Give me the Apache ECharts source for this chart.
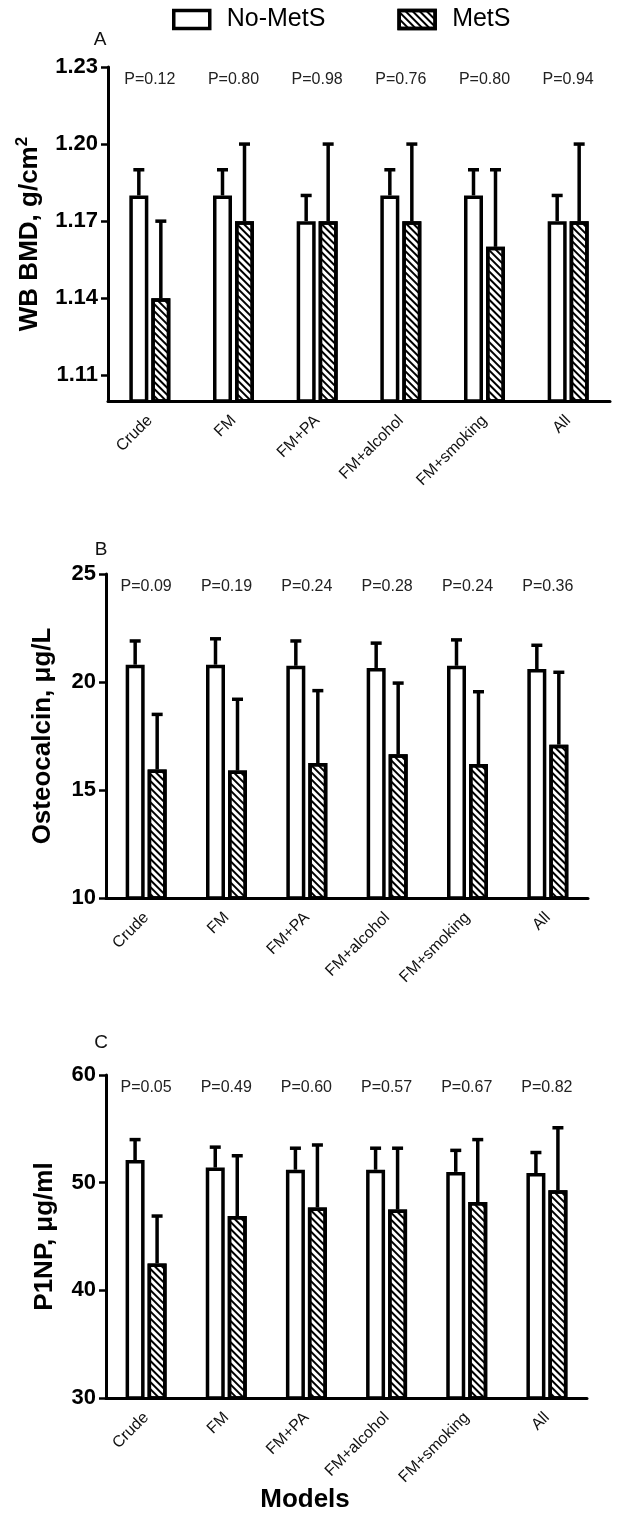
<!DOCTYPE html>
<html>
<head>
<meta charset="utf-8">
<script src="https://cdn.jsdelivr.net/npm/echarts@6/dist/echarts.min.js"></script>
<style>html,body{margin:0;padding:0;background:#fff}#c{width:620px;height:1530px}</style>
</head>
<body>
<div id="c"></div>
<script>
// ---- data ----
const categories = ['Crude', 'FM', 'FM+PA', 'FM+alcohol', 'FM+smoking', 'All'];
const seriesNames = ['No-MetS', 'MetS'];

const bmdNoMetS = [1.18, 1.18, 1.17, 1.18, 1.18, 1.17];
const bmdNoMetSUpper = [1.19, 1.19, 1.18, 1.19, 1.19, 1.18];
const bmdMetS = [1.14, 1.17, 1.17, 1.17, 1.16, 1.17];
const bmdMetSUpper = [1.17, 1.20, 1.20, 1.20, 1.19, 1.20];
const bmdP = ['P=0.12', 'P=0.80', 'P=0.98', 'P=0.76', 'P=0.80', 'P=0.94'];
const bmdTicks = [1.11, 1.14, 1.17, 1.20, 1.23];

const ocNoMetS = [20.8, 20.8, 20.75, 20.65, 20.75, 20.6];
const ocNoMetSUpper = [21.9, 22.0, 21.9, 21.8, 21.95, 21.7];
const ocMetS = [15.95, 15.9, 16.25, 16.65, 16.2, 17.1];
const ocMetSUpper = [18.5, 19.2, 19.6, 19.95, 19.55, 20.45];
const ocP = ['P=0.09', 'P=0.19', 'P=0.24', 'P=0.28', 'P=0.24', 'P=0.36'];
const ocTicks = [10, 15, 20, 25];

const p1npNoMetS = [52.1, 51.4, 51.2, 51.2, 51.0, 50.9];
const p1npNoMetSUpper = [54.0, 53.3, 53.2, 53.2, 53.0, 52.8];
const p1npMetS = [42.5, 46.9, 47.7, 47.5, 48.2, 49.3];
const p1npMetSUpper = [46.9, 52.5, 53.5, 53.2, 54.0, 55.1];
const p1npP = ['P=0.05', 'P=0.49', 'P=0.60', 'P=0.57', 'P=0.67', 'P=0.82'];
const p1npTicks = [30, 40, 50, 60];

// ---- layout / style ----
const FONT = '"Liberation Sans", Arial, Helvetica, sans-serif';
const BW = 19, GAP = 3;
const panels = [
  { letter: 'A', noM: bmdNoMetS, noU: bmdNoMetSUpper, m: bmdMetS, mU: bmdMetSUpper, p: bmdP, ticks: bmdTicks,
    min: 1.10, max: 1.23, dec: 2, grid: { left: 108, right: 10, top: 67, height: 334 }, nameGap: 62,
    name: '{t|WB BMD, g/cm}{s|2}', letterPos: [100, 40] },
  { letter: 'B', noM: ocNoMetS, noU: ocNoMetSUpper, m: ocMetS, mU: ocMetSUpper, p: ocP, ticks: ocTicks,
    min: 10, max: 25, dec: 0, grid: { left: 106, right: 32, top: 574, height: 324 }, nameGap: 50,
    name: '{t|Osteocalcin, μg/L}', letterPos: [101, 550] },
  { letter: 'C', noM: p1npNoMetS, noU: p1npNoMetSUpper, m: p1npMetS, mU: p1npMetSUpper, p: p1npP, ticks: p1npTicks,
    min: 30, max: 60, dec: 0, grid: { left: 106, right: 33, top: 1075, height: 323 }, nameGap: 48,
    name: '{t|P1NP, μg/ml}', letterPos: [101, 1043] }
];

const decal = { symbol: 'rect', symbolSize: 1, color: '#000', dashArrayX: [1, 0], dashArrayY: [1.6, 3.0], rotation: Math.PI / 4 };

function errorRender(offset) {
  return function (params, api) {
    const base = api.coord([api.value(0), api.value(1)]);
    const top = api.coord([api.value(0), api.value(2)]);
    const x = base[0] + offset;
    return {
      type: 'group',
      children: [
        { type: 'line', shape: { x1: x, y1: base[1], x2: x, y2: top[1] }, style: { stroke: '#000', lineWidth: 3.5 } },
        { type: 'line', shape: { x1: x - 5.5, y1: top[1], x2: x + 5.5, y2: top[1] }, style: { stroke: '#000', lineWidth: 3.5 } }
      ]
    };
  };
}

const grid = [], xAxis = [], yAxis = [], series = [], graphic = [];
panels.forEach((pn, i) => {
  grid.push(pn.grid);
  xAxis.push({
    type: 'category', gridIndex: i, data: categories,
    axisLine: { lineStyle: { color: '#000', width: 3 } },
    axisTick: { show: false },
    axisLabel: { rotate: 45, margin: 17, color: '#111', fontSize: 16, fontFamily: FONT, interval: 0 }
  });
  yAxis.push({
    type: 'value', gridIndex: i, min: pn.min, max: pn.max,
    name: pn.name, nameLocation: 'middle', nameRotate: 90, nameGap: pn.nameGap,
    nameTextStyle: {
      rich: {
        t: { fontSize: 26, fontWeight: 'bold', fontFamily: FONT, color: '#000' },
        s: { fontSize: 17, fontWeight: 'bold', fontFamily: FONT, color: '#000', verticalAlign: 'top', padding: [0, 0, 15, 0] }
      }
    },
    splitLine: { show: false },
    axisLine: { show: true, lineStyle: { color: '#000', width: 3 } },
    axisTick: { show: true, length: 7, lineStyle: { color: '#000', width: 2.5 }, customValues: pn.ticks },
    axisLabel: {
      customValues: pn.ticks, margin: 10, fontSize: 22, fontWeight: 'bold', fontFamily: FONT, color: '#000',
      formatter: (v) => Number(v).toFixed(pn.dec)
    }
  });
  series.push({
    name: seriesNames[0], type: 'bar', xAxisIndex: i, yAxisIndex: i, data: pn.noM,
    barWidth: BW, barGap: (GAP / BW * 100) + '%',
    itemStyle: { color: '#fff', borderColor: '#000', borderWidth: 3.5 }, z: 2
  });
  series.push({
    name: seriesNames[1], type: 'bar', xAxisIndex: i, yAxisIndex: i, data: pn.m,
    barWidth: BW, barGap: (GAP / BW * 100) + '%',
    itemStyle: { color: '#fff', borderColor: '#000', borderWidth: 3.5, decal: decal }, z: 2
  });
  const off = (BW + GAP) / 2;
  series.push({
    type: 'custom', xAxisIndex: i, yAxisIndex: i, z: 3, silent: true,
    data: pn.noM.map((v, k) => [k, v, pn.noU[k]]),
    encode: { x: 0, y: [1, 2] }, renderItem: errorRender(-off)
  });
  series.push({
    type: 'custom', xAxisIndex: i, yAxisIndex: i, z: 3, silent: true,
    data: pn.m.map((v, k) => [k, v, pn.mU[k]]),
    encode: { x: 0, y: [1, 2] }, renderItem: errorRender(off)
  });
  series.push({
    type: 'custom', xAxisIndex: i, yAxisIndex: i, z: 4, silent: true,
    data: pn.p.map((t, k) => [k, pn.max, t]),
    encode: { x: 0, y: 1 },
    renderItem: function (params, api) {
      const c = api.coord([api.value(0), pn.max]);
      return { type: 'text', x: c[0], y: c[1] + 13,
        style: { text: pn.p[params.dataIndex], fill: '#222', font: '16px ' + FONT, textAlign: 'center', textVerticalAlign: 'middle' } };
    }
  });
  graphic.push({ type: 'text', x: pn.letterPos[0], y: pn.letterPos[1],
    style: { text: pn.letter, fill: '#111', font: '19px ' + FONT, textAlign: 'center', textVerticalAlign: 'middle' } });
});

graphic.push({ type: 'text', x: 305, y: 1500,
  style: { text: 'Models', fill: '#000', font: 'bold 26px ' + FONT, textAlign: 'center', textVerticalAlign: 'middle' } });

const chart = echarts.init(document.getElementById('c'), null, { renderer: 'canvas' });
chart.setOption({
  animation: false,
  backgroundColor: '#fff',
  legend: {
    data: seriesNames, left: 172, top: 7, padding: 0, itemWidth: 36, itemHeight: 18, itemGap: 72, icon: 'rect',
    itemStyle: { borderColor: '#000', borderWidth: 3.5 },
    textStyle: { fontSize: 25, fontFamily: FONT, color: '#000', padding: [0, 0, 0, 12] }
  },
  grid, xAxis, yAxis, series, graphic
});
</script>
</body>
</html>
